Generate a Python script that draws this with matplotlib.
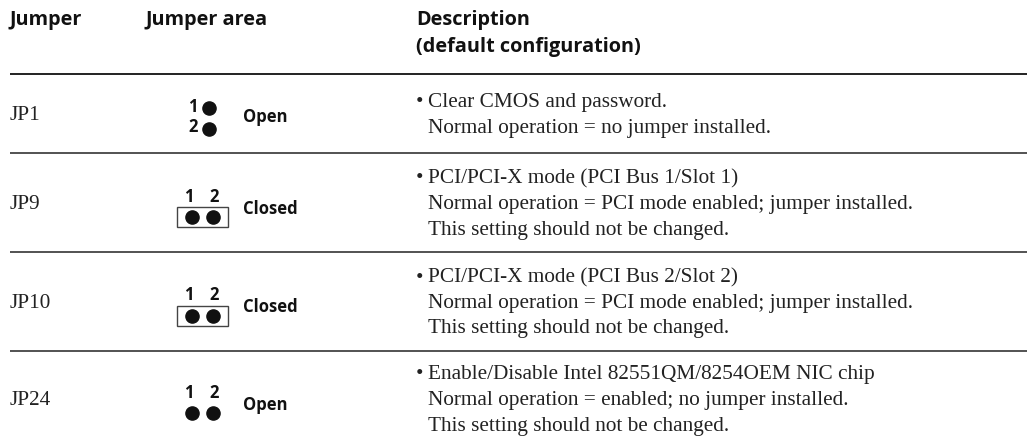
import matplotlib
matplotlib.use("Agg")
import matplotlib.pyplot as plt
from matplotlib.patches import Rectangle

headers = ["Jumper", "Jumper area", "Description\n(default configuration)"]
jumpers = ["JP1", "JP9", "JP10", "JP24"]
states = ["Open", "Closed", "Closed", "Open"]
orientation = ["vertical", "horizontal", "horizontal", "horizontal"]
descriptions = [
    ["Clear CMOS and password.",
     "Normal operation = no jumper installed."],
    ["PCI/PCI-X mode (PCI Bus 1/Slot 1)",
     "Normal operation = PCI mode enabled; jumper installed.",
     "This setting should not be changed."],
    ["PCI/PCI-X mode (PCI Bus 2/Slot 2)",
     "Normal operation = PCI mode enabled; jumper installed.",
     "This setting should not be changed."],
    ["Enable/Disable Intel 82551QM/8254OEM NIC chip",
     "Normal operation = enabled; no jumper installed.",
     "This setting should not be changed."],
]

W, H = 1027, 446
fig = plt.figure(figsize=(W / 100, H / 100), dpi=100)
ax = fig.add_axes([0, 0, 1, 1])
ax.set_xlim(0, W)
ax.set_ylim(H, 0)
ax.axis("off")

hfont = dict(family="Open Sans", weight="bold", size=14.3, color="#111111")
bfont = dict(family="Liberation Serif", size=15.3, color="#222222")
nfont = dict(family="Open Sans", weight="bold", size=12, color="#111111")

# headers
ax.text(10, 25, headers[0], va="baseline", ha="left", **hfont)
ax.text(145, 25, headers[1], va="baseline", ha="left", **hfont)
ax.text(416, 25, headers[2].split("\n")[0], va="baseline", ha="left", **hfont)
ax.text(416, 52, headers[2].split("\n")[1], va="baseline", ha="left", **hfont)
ax.plot([10, W], [74, 74], color="#111111", lw=1.3, solid_capstyle="butt")

row_tops = [74, 153, 252, 351]
row_bottoms = [153, 252, 351, 446]
for i, (jp, st, ori, desc) in enumerate(zip(jumpers, states, orientation, descriptions)):
    top, bot = row_tops[i], row_bottoms[i]
    mid = (top + bot) / 2 + 2
    n = len(desc)
    line_h = 25.5
    first = mid - (n - 1) * line_h / 2
    ax.text(10, mid, jp, va="center", ha="left", **bfont)
    for k, line in enumerate(desc):
        y = first + k * line_h
        if k == 0:
            ax.text(416, y, "\u2022", va="center", ha="left", **bfont)
        ax.text(428, y, line, va="center", ha="left", **bfont)
    if ori == "vertical":
        ax.scatter([209, 209], [mid - 8, mid + 13], s=90, color="#111111", zorder=3)
        ax.text(198, mid - 9, "1", va="center", ha="right", **nfont)
        ax.text(198, mid + 12, "2", va="center", ha="right", **nfont)
        ax.text(243, mid + 2, st, va="center", ha="left", **nfont)
    else:
        xs = [192, 213]
        ydot = mid + 12
        ax.scatter(xs, [ydot, ydot], s=90, color="#111111", zorder=3)
        ax.text(189, mid - 8, "1", va="center", ha="center", **nfont)
        ax.text(214, mid - 8, "2", va="center", ha="center", **nfont)
        if st == "Closed":
            ax.add_patch(Rectangle((177, ydot - 10), 51, 20, fill=False,
                                   edgecolor="#444444", lw=1.0))
        ax.text(243, mid + 4, st, va="center", ha="left", **nfont)
    if i < len(jumpers) - 1:
        ax.plot([10, W], [bot, bot], color="#444444", lw=1.3, solid_capstyle="butt")

fig.savefig("out.png", dpi=100)
